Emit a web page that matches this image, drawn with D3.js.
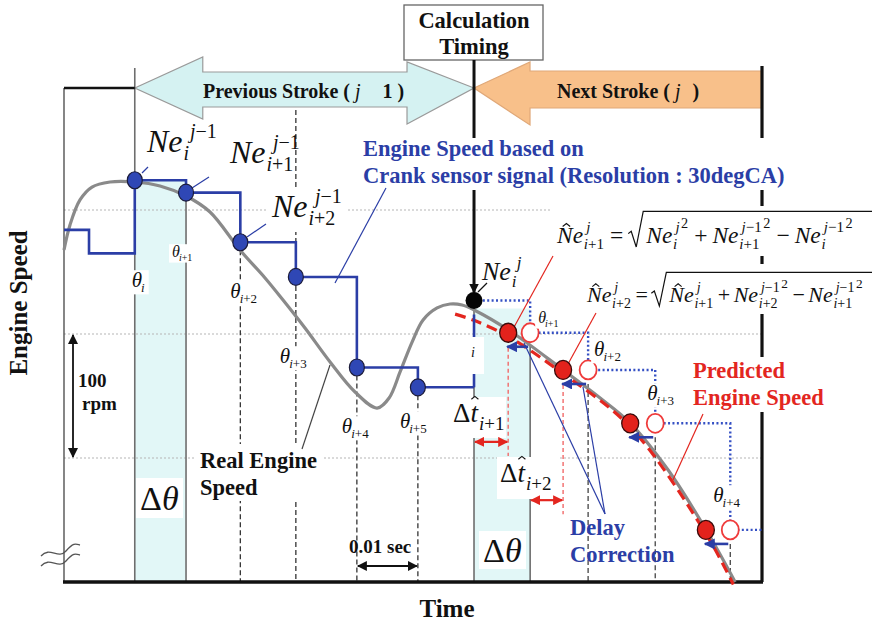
<!DOCTYPE html>
<html>
<head>
<meta charset="utf-8">
<script src="https://cdn.jsdelivr.net/npm/d3@7/dist/d3.min.js"></script>
<style>
  body { margin: 0; background: #fff; }
  svg { display: block; }
  text { font-family: "Liberation Serif", "Times New Roman", serif; }
</style>
</head>
<body>
<svg id="chart" width="873" height="624"></svg>
<script>
// values: time in ms, engine speed in rpm
const timeDomain = [0, 114.4];
const speedDomain = [600, 1000];
const gridSpeeds = [700, 800, 900];

const realTimes = [0, 0.98, 2.62, 4.59, 7.54, 11.64, 15.74, 20.0, 23.93, 28.85, 32.95, 35.9, 39.5, 43.61, 47.7, 51.31, 53.28, 55.08, 57.05, 58.85, 61.15, 63.28, 65.25, 67.21, 73.11, 81.8, 87.87, 92.79, 99.02, 105.25, 110.0];
const realSpeed = [867.7, 887.9, 908.1, 918.5, 922.6, 922.6, 919.4, 911.3, 898.4, 867.7, 845.2, 827.4, 804.8, 777.4, 753.2, 740.3, 748.4, 769.4, 793.5, 811.3, 821.0, 824.2, 823.4, 819.4, 802.4, 771.0, 748.4, 728.2, 690.3, 641.9, 600];

const earlyTimes = [0, 4.1];
const earlySpeed = [884, 865];
const thetaTimes = [11.6, 20.0, 28.9, 38.0, 48.0, 58.0];
const thetaSubs = ['i', 'i+1', 'i+2', 'i+3', 'i+4', 'i+5'];
const sensorSpeed = [924, 914, 874, 846, 773, 757];

const calcTime = 67.2;
const calcSpeed = 827;
const nextThetaTimes = [76.4, 85.9, 96.9, 109.2];
const nextThetaSubs = ['i+1', 'i+2', 'i+3', 'i+4'];
const correctedTimes = [72.8, 81.8, 92.8, 105.2];
const predictedSpeed = [801, 771, 728, 642];

const predTimes = [64.1, 67.2, 72.8, 81.8, 92.8, 105.2, 109.7];
const predSpeed = [816, 811, 798, 768, 725, 639, 598];

const dtSpeed = [713, 666];
const rpmBar = [700, 800];
const secBar = [48, 58];

const svg = d3.select('#chart');
const x = d3.scaleLinear().domain(timeDomain).range([64, 762]);
const y = d3.scaleLinear().domain(speedDomain).range([582, 86]);
const X0 = x.range()[0];
const X1 = x.range()[1];
const Y0 = y.range()[0];

const BLUE = '#2b3ea6';
const RED = '#e3261f';
const GREY = '#8a8a8a';

const defs = svg.append('defs');
function addMarker(id, color, size) {
  defs.append('marker').attr('id', id)
    .attr('viewBox', '0 0 10 10').attr('refX', 9).attr('refY', 5)
    .attr('markerWidth', size).attr('markerHeight', size)
    .attr('markerUnits', 'userSpaceOnUse')
    .attr('orient', 'auto-start-reverse')
    .append('path').attr('d', 'M0,0L10,5L0,10z').attr('fill', color);
}
addMarker('ah-black', '#111', 10);
addMarker('ah-red', RED, 10);
addMarker('ah-blue', BLUE, 11);

const tw = (sel) => sel.node().getComputedTextLength();

function line(g, x1, y1, x2, y2, stroke, width, dash) {
  return g.append('line').attr('x1', x1).attr('y1', y1).attr('x2', x2).attr('y2', y2)
    .attr('stroke', stroke).attr('stroke-width', width).attr('stroke-dasharray', dash || null);
}

function whiteBox(g, x0, y0, w, h) {
  g.append('rect').attr('x', x0).attr('y', y0).attr('width', w).attr('height', h).attr('fill', '#fff');
}

// letters italic, digits and operators upright
function mtext(g, x0, y0, s, size, o = {}) {
  const t = g.append('text').attr('x', x0).attr('y', y0).attr('font-size', size)
    .attr('fill', o.color || '#111').attr('text-anchor', o.anchor || 'start');
  s.match(/[A-Za-zθ]+|[^A-Za-zθ]+/g).forEach((run) => {
    t.append('tspan').attr('font-style', /[A-Za-zθ]/.test(run) ? 'italic' : 'normal').text(run);
  });
  return t;
}

function plain(g, x0, y0, s, size, o = {}) {
  return g.append('text').attr('x', x0).attr('y', y0).attr('font-size', size)
    .attr('font-weight', o.bold === false ? null : 'bold')
    .attr('fill', o.color || '#111').attr('text-anchor', o.anchor || 'start')
    .text(s);
}

function hat(g, cx, topY, size) {
  g.append('path')
    .attr('d', `M${cx - size * 0.16},${topY + size * 0.1}L${cx},${topY - size * 0.03}L${cx + size * 0.16},${topY + size * 0.1}`)
    .attr('fill', 'none').attr('stroke', '#111').attr('stroke-width', 1.1);
}

// "Ne" with superscript/subscript, returns the x where the term ends
function ne(g, x0, y0, size, sup, sub, o = {}) {
  const small = Math.round(size * (o.ratio || 0.64));
  const base = mtext(g, x0, y0, 'Ne', size);
  const w = tw(base);
  if (o.hat) hat(g, x0 + size * 0.4, y0 - size * 0.8, size);
  const sx = x0 + w + size * 0.03;
  const shift = size * (o.supShift || 0.1);
  const tSup = mtext(g, sx + shift, y0 - size * 0.45, sup, small);
  const tSub = mtext(g, sx, y0 + size * 0.25, sub, small);
  const supEnd = sx + shift + tw(tSup);
  let end = Math.max(supEnd, sx + tw(tSub));
  if (o.exp) {
    const e = mtext(g, supEnd + 1.5, y0 - size * 0.62, o.exp, small * 0.95);
    end = Math.max(end, supEnd + 1.5 + tw(e));
  }
  return end;
}

function sqrtSign(g, sx, y0, size, endX) {
  g.append('path')
    .attr('d', `M${sx},${y0 - size * 0.4}L${sx + 3},${y0 - size * 0.5}L${sx + 8},${y0 + 4}L${sx + 15},${y0 - size * 1.35}H${endX}`)
    .attr('fill', 'none').attr('stroke', '#111').attr('stroke-width', 1.2);
  return sx + 18;
}

function op(g, fx, y0, s, size, pad = 6) {
  const t = mtext(g, fx + pad, y0, s, size);
  return fx + pad + tw(t) + pad - 1;
}

function thetaLabel(g, x0, y0, sub, size) {
  const box = g.append('g');
  const t = mtext(g, x0, y0, 'θ', size);
  const s = mtext(g, x0 + tw(t) - 1, y0 + size * 0.22, sub, Math.round(size * 0.62));
  const w = tw(t) + tw(s) + 4;
  box.append('rect').attr('x', x0 - 3).attr('y', y0 - size * 0.8)
    .attr('width', w + 2).attr('height', size * 1.15).attr('fill', '#fff');
}

function deltaT(g, x0, y0, sub) {
  const d = mtext(g, x0, y0, 'Δ', 27);
  const t = mtext(g, x0 + tw(d), y0, 't', 27);
  hat(g, x0 + tw(d) + tw(t) * 0.6, y0 - 25, 22);
  mtext(g, x0 + tw(d) + tw(t) + 1, y0 + 8, sub, 19);
}

// ---- light cyan Δθ bands ----
svg.append('rect')
  .attr('x', x(thetaTimes[0])).attr('y', y(sensorSpeed[0]))
  .attr('width', x(thetaTimes[1]) - x(thetaTimes[0])).attr('height', Y0 - y(sensorSpeed[0]))
  .attr('fill', '#e2f7f7');
svg.append('rect')
  .attr('x', x(calcTime)).attr('y', y(calcSpeed) + 8)
  .attr('width', x(nextThetaTimes[0]) - x(calcTime)).attr('height', Y0 - y(calcSpeed) - 8)
  .attr('fill', '#e2f7f7');

// ---- grid ----
gridSpeeds.forEach((s) => line(svg, X0, y(s), X1, y(s), '#b5b5b5', 1.2, '2,2'));

// ---- header arrows ----
const L = x(thetaTimes[0]);
const R = x(calcTime);
svg.append('path')
  .attr('d', d3.line()([[L, 88], [L + 68, 57], [L + 68, 72], [R - 67, 72], [R - 67, 62], [R, 88], [R - 67, 124], [R - 67, 107], [L + 68, 107], [L + 68, 119]]) + 'Z')
  .attr('fill', '#d5f2f2').attr('stroke', '#9a9a9a').attr('stroke-width', 1.2);
svg.append('path')
  .attr('d', d3.line()([[R, 88], [R + 56, 62], [R + 56, 71], [X1, 71], [X1, 108], [R + 56, 108], [R + 56, 125]]) + 'Z')
  .attr('fill', '#f8c08a').attr('stroke', '#e0a878').attr('stroke-width', 1.2);

// ---- vertical markers ----
line(svg, x(thetaTimes[0]), 68, x(thetaTimes[0]), Y0, '#6e6e6e', 1.6);
line(svg, x(thetaTimes[1]), y(sensorSpeed[1]), x(thetaTimes[1]), Y0, '#6e6e6e', 1.6);
thetaTimes.slice(2).forEach((t, k) => {
  const top = k === 1 ? 110 : y(sensorSpeed[k + 2]);
  line(svg, x(t), top, x(t), Y0, '#333', 1.3, '5,3');
});
line(svg, x(calcTime), y(calcSpeed), x(calcTime), Y0, '#6e6e6e', 1.6);
line(svg, x(nextThetaTimes[0]), y(predictedSpeed[0]) + 12, x(nextThetaTimes[0]), Y0, '#6e6e6e', 1.6);
nextThetaTimes.slice(1).forEach((t, k) => {
  line(svg, x(t), y(predictedSpeed[k + 1]) + 14, x(t), Y0, '#444', 1.3, '5,3');
});

// ---- frame ----
line(svg, X0, 88, X0, Y0, '#444', 1.3);
line(svg, X0, 88, L, 88, '#111', 2.5);
line(svg, X0 - 1, Y0, X1 + 1, Y0, '#111', 3.5);
line(svg, X1, 66, X1, Y0, '#111', 3.2);

// ---- calculation timing ----
svg.append('rect').attr('x', 404).attr('y', 5).attr('width', 139).attr('height', 55)
  .attr('fill', '#fff').attr('stroke', '#666').attr('stroke-width', 1.3);
plain(svg, R, 28, 'Calculation', 22.5, { anchor: 'middle' });
plain(svg, R, 54, 'Timing', 22.5, { anchor: 'middle' });
line(svg, R, 60, R, y(calcSpeed) - 8, '#111', 3).attr('marker-end', 'url(#ah-black)');

const prev = plain(svg, 203, 98, 'Previous Stroke ( ', 20);
prev.append('tspan').attr('font-style', 'italic').attr('font-weight', 'normal').text('j');
prev.append('tspan').attr('dx', 22).text('1 )');
const next = plain(svg, 557, 98, 'Next Stroke ( ', 20);
next.append('tspan').attr('font-style', 'italic').attr('font-weight', 'normal').text('j');
next.append('tspan').attr('dx', 12).text(')');

// ---- white label backgrounds that break the lines ----
whiteBox(svg, 358, 138, 434, 52);
whiteBox(svg, 268, 190, 80, 42);
whiteBox(svg, 550, 206, 323, 50);
whiteBox(svg, 582, 264, 291, 50);
whiteBox(svg, 195, 444, 128, 57);
whiteBox(svg, 690, 357, 140, 55);
whiteBox(svg, 76, 366, 44, 48);
whiteBox(svg, 136, 478, 47, 40);
whiteBox(svg, 479, 531, 47, 38);
whiteBox(svg, 449, 397, 57, 41);
whiteBox(svg, 497, 457, 63, 42);

// ---- real engine speed ----
svg.append('path')
  .attr('d', d3.line().x((d) => x(d[0])).y((d) => y(d[1])).curve(d3.curveCatmullRom.alpha(0.5))(d3.zip(realTimes, realSpeed)))
  .attr('fill', 'none').attr('stroke', GREY).attr('stroke-width', 3.2);

// ---- predicted engine speed ----
svg.append('path')
  .attr('d', d3.line().x((d) => x(d[0])).y((d) => y(d[1])).curve(d3.curveCatmullRom.alpha(0.5))(d3.zip(predTimes, predSpeed)))
  .attr('fill', 'none').attr('stroke', RED).attr('stroke-width', 3.2).attr('stroke-dasharray', '11,6');

// ---- crank sensor step signal ----
const steps = d3.zip(earlyTimes.concat(thetaTimes, [calcTime]), earlySpeed.concat(sensorSpeed, [sensorSpeed[5]]));
svg.append('path')
  .attr('d', d3.line().x((d) => x(d[0])).y((d) => y(d[1])).curve(d3.curveStepAfter)(steps))
  .attr('fill', 'none').attr('stroke', BLUE).attr('stroke-width', 2.6);
line(svg, x(calcTime), y(sensorSpeed[5]), x(calcTime), y(calcSpeed) + 14, BLUE, 2.6);

// ---- dotted prediction steps ----
const dotted = [[calcTime, calcSpeed]].concat(d3.zip(nextThetaTimes, predictedSpeed), [[timeDomain[1], predictedSpeed[3]]]);
svg.append('path')
  .attr('d', d3.line().x((d) => x(d[0])).y((d) => y(d[1])).curve(d3.curveStepAfter)(dotted))
  .attr('fill', 'none').attr('stroke', '#3550c4').attr('stroke-width', 2.4).attr('stroke-dasharray', '2,2.4');

// ---- delay correction, Δt ----
correctedTimes.slice(0, 2).forEach((t, k) => {
  line(svg, x(t), y(predictedSpeed[k]) + 15, x(t), y(dtSpeed[k]) + 14, '#f26a6a', 1.4, '4,3');
});
line(svg, x(calcTime) + 1, y(dtSpeed[0]), x(correctedTimes[0]) - 1, y(dtSpeed[0]), RED, 2.2)
  .attr('marker-start', 'url(#ah-red)').attr('marker-end', 'url(#ah-red)');
line(svg, x(nextThetaTimes[0]) + 1, y(dtSpeed[1]), x(correctedTimes[1]) - 1, y(dtSpeed[1]), RED, 2.2)
  .attr('marker-start', 'url(#ah-red)').attr('marker-end', 'url(#ah-red)');
correctedTimes.forEach((t, k) => {
  line(svg, x(nextThetaTimes[k]) - 2, y(predictedSpeed[k]) + 14, x(t) - 1, y(predictedSpeed[k]) + 14, BLUE, 2.6)
    .attr('marker-end', 'url(#ah-blue)');
});

// ---- leader lines ----
[[142, 173, 148, 167, BLUE], [192, 188, 209, 177, BLUE], [247, 237, 266, 224, BLUE],
  [386, 188, 335, 283, BLUE], [302, 449, 330, 365, '#444'], [478, 292, 487, 283, '#111'],
  [553, 256, 513, 329, RED], [596, 313, 568, 364, RED], [703, 414, 672, 482, RED],
  [605, 514, 524, 343, BLUE], [605, 514, 583, 387, BLUE]]
  .forEach(([a, b, c, d, col]) => line(svg, a, b, c, d, col, 1.2));

// ---- points ----
svg.append('g').selectAll('ellipse').data(d3.zip(thetaTimes, sensorSpeed)).join('ellipse')
  .attr('cx', (d) => x(d[0])).attr('cy', (d) => y(d[1])).attr('rx', 7.5).attr('ry', 8.5)
  .attr('fill', '#2f47b5').attr('stroke', '#1c1c3a').attr('stroke-width', 1.2);
svg.append('circle').attr('cx', x(calcTime)).attr('cy', y(calcSpeed)).attr('r', 8.5).attr('fill', '#050505');
svg.append('g').selectAll('ellipse').data(d3.zip(nextThetaTimes, predictedSpeed)).join('ellipse')
  .attr('cx', (d) => x(d[0])).attr('cy', (d) => y(d[1])).attr('rx', 8.5).attr('ry', 9.5)
  .attr('fill', '#fff').attr('stroke', '#ef3b3b').attr('stroke-width', 1.8);
svg.append('g').selectAll('ellipse').data(d3.zip(correctedTimes, predictedSpeed)).join('ellipse')
  .attr('cx', (d) => x(d[0])).attr('cy', (d) => y(d[1])).attr('rx', 8.5).attr('ry', 9.5)
  .attr('fill', '#e3221c').attr('stroke', '#3a0a0a').attr('stroke-width', 1.3);

// ---- θ labels ----
const thetaDx = [-3, -14, -10, -16, -15, -18];
const thetaY = [287, 257, 298, 363, 433, 428];
const thetaSize = [21, 16, 21, 21, 21, 21];
thetaTimes.forEach((t, k) => thetaLabel(svg, x(t) + thetaDx[k], thetaY[k], thetaSubs[k], thetaSize[k]));
const nextDx = [8, 6, -8, -17];
const nextY = [323, 356, 400, 502];
const nextSize = [16, 21, 21, 21];
nextThetaTimes.forEach((t, k) => thetaLabel(svg, x(t) + nextDx[k], nextY[k], nextThetaSubs[k], nextSize[k]));

// small leftover subscript at the calculation timing
whiteBox(svg, 466, 337, 18, 37);
mtext(svg, 471, 357, 'i', 14);

// ---- Ne labels ----
ne(svg, 147, 152, 32, 'j−1', 'i', { supShift: 0.2 });
ne(svg, 230, 163, 32, 'j−1', 'i+1', { supShift: 0.2 });
ne(svg, 272, 217, 32, 'j−1', 'i+2', { supShift: 0.2 });
ne(svg, 482, 280, 26, 'j', 'i', { supShift: 0.2 });

// ---- formulas ----
const FS = 23.5;
let fx = ne(svg, 557, 243, FS, 'j', 'i+1', { hat: true });
fx = op(svg, fx, 243, '=', FS);
fx = sqrtSign(svg, fx, 243, FS, 872);
fx = ne(svg, fx, 243, FS, 'j', 'i', { exp: '2' });
fx = op(svg, fx, 243, '+', FS);
fx = ne(svg, fx, 243, FS, 'j−1', 'i+1', { exp: '2' });
fx = op(svg, fx, 243, '−', FS);
ne(svg, fx, 243, FS, 'j−1', 'i', { exp: '2' });

const FS2 = 22;
fx = ne(svg, 587, 302, FS2, 'j', 'i+2', { hat: true });
fx = op(svg, fx, 302, '=', FS2, 4.5);
fx = sqrtSign(svg, fx, 302, FS2, 872);
fx = ne(svg, fx, 302, FS2, 'j', 'i+1', { hat: true });
fx = op(svg, fx, 302, '+', FS2, 4.5);
fx = ne(svg, fx, 302, FS2, 'j−1', 'i+2', { exp: '2' });
fx = op(svg, fx, 302, '−', FS2, 4.5);
ne(svg, fx, 302, FS2, 'j−1', 'i+1', { exp: '2' });

// ---- text annotations ----
plain(svg, 363, 156, 'Engine Speed based on', 22.5, { color: BLUE });
plain(svg, 363, 183, 'Crank sensor signal (Resolution : 30degCA)', 22.5, { color: BLUE });
plain(svg, 693, 378, 'Predicted', 22.5, { color: RED });
plain(svg, 693, 405, 'Engine Speed', 22.5, { color: RED });
plain(svg, 570, 535, 'Delay', 22.5, { color: BLUE });
plain(svg, 570, 562, 'Correction', 22.5, { color: BLUE });
plain(svg, 200, 468, 'Real Engine', 22.5);
plain(svg, 200, 495, 'Speed', 22.5);
plain(svg, 78, 387, '100', 19);
plain(svg, 82, 410, 'rpm', 19);
plain(svg, 349, 553, '0.01 sec', 19);

mtext(svg, 140, 510, 'Δθ', 34);
mtext(svg, 483, 562, 'Δθ', 34);
deltaT(svg, 453, 422, 'i+1');
deltaT(svg, 500, 482, 'i+2');

// 100 rpm and 0.01 sec scale bars
line(svg, 73, y(rpmBar[0]) - 1, 73, y(rpmBar[1]) + 1, '#111', 1.8)
  .attr('marker-start', 'url(#ah-black)').attr('marker-end', 'url(#ah-black)');
line(svg, x(secBar[0]) + 1, 566, x(secBar[1]) - 1, 566, '#111', 1.8)
  .attr('marker-start', 'url(#ah-black)').attr('marker-end', 'url(#ah-black)');

// axis break mark
svg.append('path').attr('d', 'M41,556 C50,546 58,560 66,551 S76,544 80,545')
  .attr('fill', 'none').attr('stroke', '#555').attr('stroke-width', 1.3);
svg.append('path').attr('d', 'M41,566 C50,556 58,570 66,561 S76,554 80,555')
  .attr('fill', 'none').attr('stroke', '#555').attr('stroke-width', 1.3);

// axis titles
plain(svg, 447, 617, 'Time', 25, { anchor: 'middle' });
plain(svg, 0, 0, 'Engine Speed', 25, { anchor: 'middle' })
  .attr('transform', 'translate(27,303) rotate(-90)');
</script>
</body>
</html>
